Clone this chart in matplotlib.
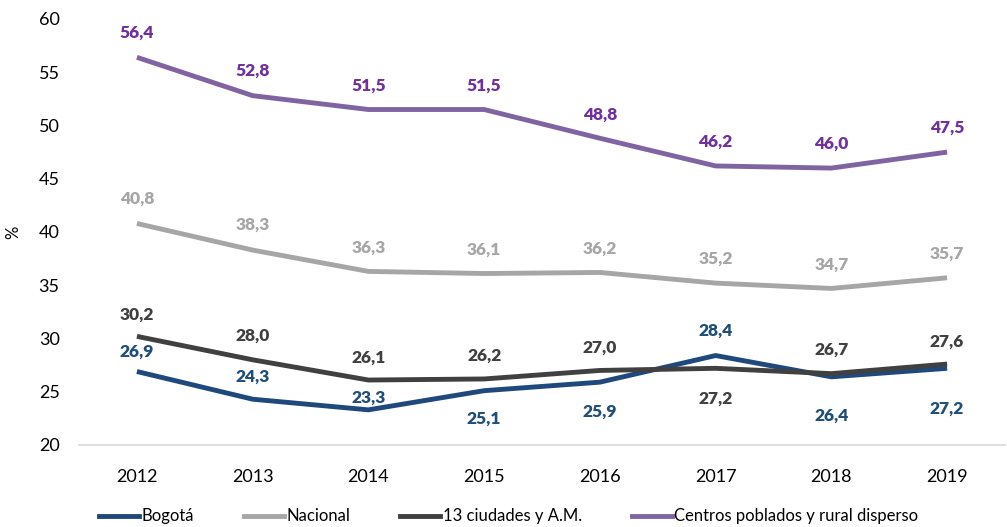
import matplotlib
matplotlib.use("Agg")
import matplotlib.pyplot as plt
from matplotlib.lines import Line2D

years = ["2012", "2013", "2014", "2015", "2016", "2017", "2018", "2019"]
bogota = [26.9, 24.3, 23.3, 25.1, 25.9, 28.4, 26.4, 27.2]
nacional = [40.8, 38.3, 36.3, 36.1, 36.2, 35.2, 34.7, 35.7]
ciudades13 = [30.2, 28.0, 26.1, 26.2, 27.0, 27.2, 26.7, 27.6]
centros = [56.4, 52.8, 51.5, 51.5, 48.8, 46.2, 46.0, 47.5]

series_names = ["Bogotá", "Nacional", "13 ciudades y A.M.", "Centros poblados y rural disperso"]

# label offsets from the point, in pixels (positive = above)
off_bogota = [20, 23, 12, -28, -30, 25, -39, -40]
off_nacional = [25, 25, 24, 24, 24, 24, 24, 24]
off_ciudades = [22, 24, 22, 23, 23, -30, 24, 22]
off_centros = [25, 25, 24, 24, 24, 24, 24, 24]

plt.rcParams['font.family'] = ['Lato', 'DejaVu Sans']

fig = plt.figure(figsize=(10.07, 5.27), dpi=100)
ax = fig.add_axes([0.0785, 0.1556, 0.9195, 0.8084])

x = list(range(len(years)))
styles = [
    (bogota, "#1F497D", "#1F4E79", off_bogota),
    (nacional, "#A6A6A6", "#A6A6A6", off_nacional),
    (ciudades13, "#404040", "#404040", off_ciudades),
    (centros, "#8064A2", "#7030A0", off_centros),
]
handles = []
for (vals, lc, tc, offs), name in zip(styles, series_names):
    ax.plot(x, vals, color=lc, lw=3.5, solid_capstyle='butt', solid_joinstyle='round')
    for xi, v, o in zip(x, vals, offs):
        ax.annotate(f"{v:.1f}".replace(".", ","), (xi, v), xytext=(0, o * 0.72),
                    textcoords="offset points", ha="center", va="center",
                    color=tc, fontsize=12.5, fontweight="heavy")
    handles.append(Line2D([0], [0], color=lc, lw=3.5))

ax.set_xlim(-0.5, len(years) - 0.5)
ax.set_ylim(20, 60)
ax.set_yticks([20, 25, 30, 35, 40, 45, 50, 55, 60])
ax.set_xticks(x)
ax.set_xticklabels(years)
ax.tick_params(axis='both', length=0, labelsize=13, colors="#000000")
ax.tick_params(axis='x', pad=17)
ax.tick_params(axis='y', pad=14)
for s in ["top", "right", "left"]:
    ax.spines[s].set_visible(False)
ax.spines["bottom"].set_color("#D9D9D9")
ax.spines["bottom"].set_linewidth(1.2)
ax.set_ylabel("%", fontsize=12)
ax.yaxis.set_label_coords(-0.062, 0.5)

fig.legend(handles, series_names, loc="center", bbox_to_anchor=(0.505, 0.02),
           ncol=4, frameon=False, fontsize=12, handlelength=2.4, handletextpad=0.15,
           columnspacing=3.0)

fig.savefig("out.png", dpi=100)
